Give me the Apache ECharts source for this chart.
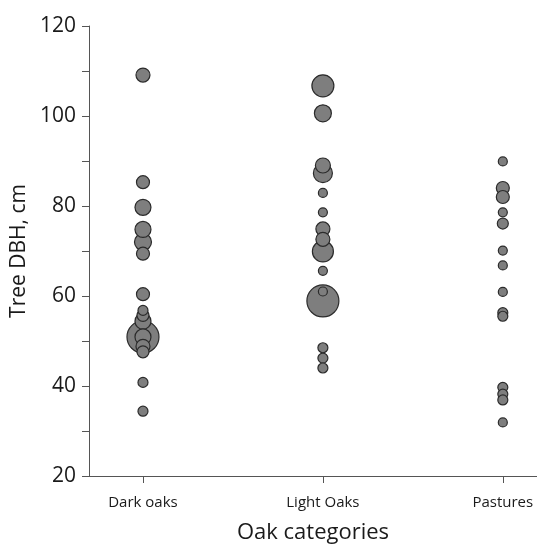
<!DOCTYPE html>
<html>
<head>
<meta charset="utf-8">
<script src="https://cdn.jsdelivr.net/npm/echarts@6/dist/echarts.min.js"></script>
<style>html,body{margin:0;padding:0;background:#fff;}#c{width:537px;height:545px;}</style>
</head>
<body>
<div id="c"></div>
<script>
// Categories and tick labels
var categories = ['Dark oaks', 'Light Oaks', 'Pastures'];
var yTicks = [20, 40, 60, 80, 100, 120];

// Tree DBH values (cm) and relative marker weight per tree
var darkDBH    = [109.1, 85.3, 79.7, 74.8, 72.0, 69.4, 60.4, 56.8, 55.7, 54.4, 50.9, 50.9, 48.8, 47.6, 40.8, 34.4];
var darkWeight = [14,    13,   16,   16,   17,   13,   13,   10,   12,   16,   32,   16,   14,   12,   10,   10];

var lightDBH    = [106.7, 100.6, 89.0, 87.3, 82.9, 78.6, 74.9, 72.6, 69.9, 65.6, 58.9, 61.0, 48.5, 46.2, 44.0];
var lightWeight = [22,    17,    15,   19,   9,    9,    14,   14,   21,   9,    32,   9,    10,   10,   10];

var pastDBH    = [89.9, 84.0, 82.0, 78.6, 76.1, 70.1, 66.8, 60.9, 56.3, 55.5, 39.7, 38.2, 36.9, 31.9];
var pastWeight = [9,    13,   13,   9,    11,   9,    9,    9,    10,   10,   10,   10,   10,   9];

var groups = [[darkDBH, darkWeight], [lightDBH, lightWeight], [pastDBH, pastWeight]];
var points = [];
groups.forEach(function (g, i) {
  g[0].forEach(function (v, j) { points.push([i + 1, v, g[1][j]]); });
});
// draw larger markers first so small ones stay visible on top
points.sort(function (a, b) { return b[2] - a[2]; });

var font = '"Open Sans", "Noto Sans", sans-serif';
var chart = echarts.init(document.getElementById('c'));
chart.setOption({
  animation: false,
  grid: { left: 89, right: 0, top: 26, bottom: 69, containLabel: false, outerBoundsMode: 'none' },
  xAxis: {
    type: 'value', min: 0.7, max: 3.19,
    name: 'Oak categories', nameLocation: 'middle', nameGap: 46,
    nameTextStyle: { fontFamily: font, fontSize: 22, color: '#1a1a1a' },
    axisLine: { show: true, lineStyle: { color: '#555', width: 1 } },
    axisTick: { show: true, length: 7, lineStyle: { color: '#555' }, customValues: [1, 2, 3] },
    axisLabel: { customValues: [1, 2, 3], margin: 19, fontFamily: font, fontSize: 15, color: '#1a1a1a',
      formatter: function (v) { return categories[Math.round(v) - 1] || ''; } },
    splitLine: { show: false }
  },
  yAxis: {
    type: 'value', min: 20, max: 120, interval: 10,
    name: 'Tree DBH, cm', nameLocation: 'middle', nameGap: 53,
    nameTextStyle: { fontFamily: font, fontSize: 21, color: '#1a1a1a' },
    axisLine: { show: true, lineStyle: { color: '#555', width: 1 } },
    axisTick: { show: true, length: 7, lineStyle: { color: '#555' } },
    axisLabel: { margin: 13, fontFamily: font, fontSize: 21, color: '#1a1a1a',
      formatter: function (v) { return yTicks.indexOf(v) >= 0 ? String(v) : ''; } },
    splitLine: { show: false }
  },
  series: [{
    type: 'scatter',
    data: points,
    symbolSize: function (d) { return d[2]; },
    itemStyle: { color: '#7e7e7e', borderColor: '#2b2b2b', borderWidth: 1.2, opacity: 1 },
    emphasis: { disabled: true }
  }]
});
</script>
</body>
</html>
